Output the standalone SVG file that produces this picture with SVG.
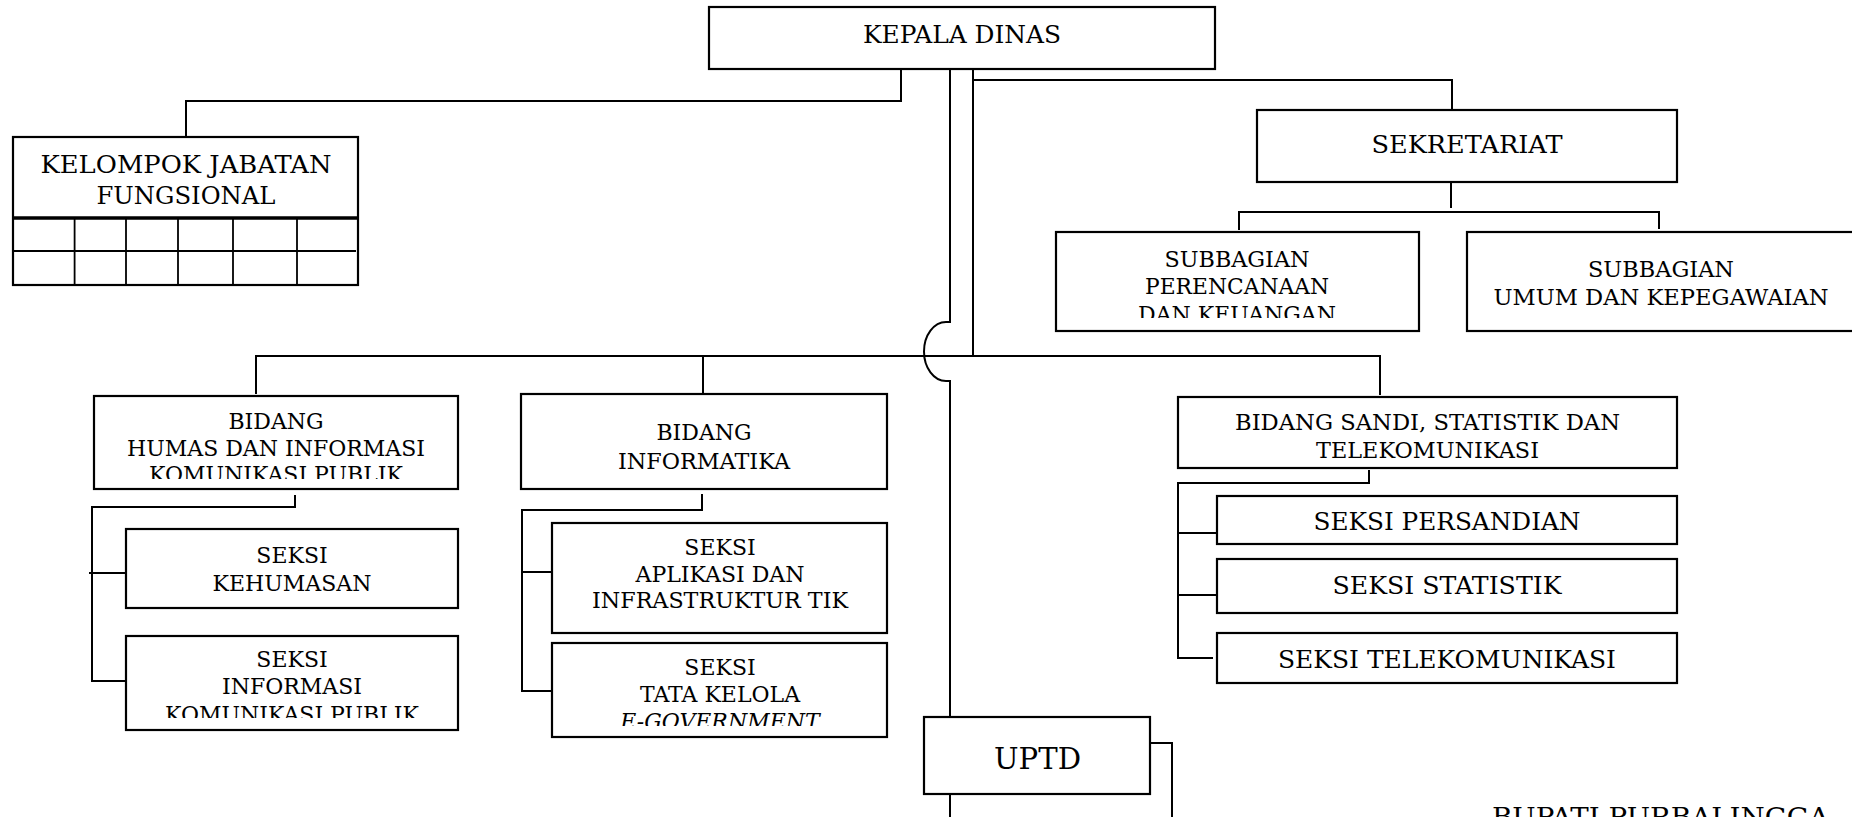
<svg xmlns="http://www.w3.org/2000/svg" width="1852" height="817" viewBox="0 0 1852 817">
<style>
.box{fill:#fff;stroke:#000;stroke-width:2.2}
.ln{fill:none;stroke:#000;stroke-width:2}
text{font-family:"DejaVu Serif","Liberation Serif",serif;fill:#000;text-anchor:middle}
.t24{font-size:24.5px}
.t22{font-size:22px}
.t23{font-size:23.5px}
</style>
<defs>
<clipPath id="cPer"><rect x="1056" y="232" width="363" height="86"/></clipPath>
<clipPath id="cHum"><rect x="94" y="396" width="364" height="83"/></clipPath>
<clipPath id="cInf"><rect x="126" y="636" width="332" height="82"/></clipPath>
<clipPath id="cTat"><rect x="552" y="643" width="335" height="83"/></clipPath>
</defs>
<rect width="1852" height="817" fill="#fff"/>
<g id="connectors" class="ln">
<path d="M901,69 V101 H186 V137"/>
<path d="M950,69 V322 H946 A22 29.5 0 0 0 946,381 H950 V717"/>
<path d="M973,69 V356"/>
<path d="M973,80 H1452 V110"/>
<path d="M1451,182 V208"/>
<path d="M1239,230 V212 H1659 V229"/>
<path d="M256,394 V356 H1380 V395"/>
<path d="M703,356 V393"/>
<path d="M295,495 V507 H92 V681 H129"/>
<path d="M89,573 H128"/>
<path d="M702,494 V510 H522 V691 H552"/>
<path d="M522,572 H552"/>
<path d="M1369,470 V483 H1178 V658 H1213"/>
<path d="M1178,533 H1217"/>
<path d="M1178,595 H1217"/>
<path d="M950,794 V817"/>
<path d="M1150,743 H1172 V817"/>
</g>
<g id="kepala-dinas">
<rect class="box" x="709" y="7" width="506" height="62"/>
<text class="t24" x="962" y="43" textLength="198" lengthAdjust="spacingAndGlyphs">KEPALA DINAS</text>
</g>
<g id="kelompok-jabatan-fungsional">
<rect class="box" x="13" y="137" width="345" height="148"/>
<line x1="13" y1="218" x2="358" y2="218" stroke="#000" stroke-width="3.5"/>
<line x1="13" y1="251" x2="356" y2="251" stroke="#000" stroke-width="1.8"/>
<g stroke="#000" stroke-width="1.8">
<line x1="74.6" y1="218" x2="74.6" y2="285"/>
<line x1="126" y1="218" x2="126" y2="285"/>
<line x1="178" y1="218" x2="178" y2="285"/>
<line x1="233" y1="218" x2="233" y2="285"/>
<line x1="297" y1="218" x2="297" y2="285"/>
</g>
<text class="t24" x="186" y="173" textLength="291" lengthAdjust="spacingAndGlyphs">KELOMPOK JABATAN</text>
<text class="t24" x="186" y="204" textLength="179" lengthAdjust="spacingAndGlyphs">FUNGSIONAL</text>
</g>
<g id="sekretariat">
<rect class="box" x="1257" y="110" width="420" height="72"/>
<text class="t24" x="1467" y="153" textLength="191" lengthAdjust="spacingAndGlyphs">SEKRETARIAT</text>
</g>
<g id="subbagian-perencanaan">
<rect class="box" x="1056" y="232" width="363" height="99"/>
<g clip-path="url(#cPer)" class="t22">
<text x="1237" y="267" textLength="145" lengthAdjust="spacingAndGlyphs">SUBBAGIAN</text>
<text x="1237" y="294" textLength="184" lengthAdjust="spacingAndGlyphs">PERENCANAAN</text>
<text x="1237" y="322">DAN KEUANGAN</text>
</g>
</g>
<g id="subbagian-umum">
<rect class="box" x="1467" y="232" width="400" height="99"/>
<text class="t22" x="1661" y="277" textLength="146" lengthAdjust="spacingAndGlyphs">SUBBAGIAN</text>
<text class="t22" x="1661" y="305" textLength="335" lengthAdjust="spacingAndGlyphs">UMUM DAN KEPEGAWAIAN</text>
</g>
<g id="bidang-humas">
<rect class="box" x="94" y="396" width="364" height="93"/>
<g clip-path="url(#cHum)" class="t22">
<text x="276" y="429">BIDANG</text>
<text x="276" y="456" textLength="298" lengthAdjust="spacingAndGlyphs">HUMAS DAN INFORMASI</text>
<text x="276" y="482">KOMUNIKASI PUBLIK</text>
</g>
</g>
<g id="seksi-kehumasan">
<rect class="box" x="126" y="529" width="332" height="79"/>
<text class="t22" x="292" y="563">SEKSI</text>
<text class="t22" x="292" y="591">KEHUMASAN</text>
</g>
<g id="seksi-informasi">
<rect class="box" x="126" y="636" width="332" height="94"/>
<g clip-path="url(#cInf)" class="t22">
<text x="292" y="667">SEKSI</text>
<text x="292" y="694">INFORMASI</text>
<text x="292" y="722">KOMUNIKASI PUBLIK</text>
</g>
</g>
<g id="bidang-informatika">
<rect class="box" x="521" y="394" width="366" height="95"/>
<text class="t22" x="704" y="440">BIDANG</text>
<text class="t22" x="704" y="469" textLength="172" lengthAdjust="spacingAndGlyphs">INFORMATIKA</text>
</g>
<g id="seksi-aplikasi">
<rect class="box" x="552" y="523" width="335" height="110"/>
<text class="t22" x="720" y="555">SEKSI</text>
<text class="t22" x="720" y="582">APLIKASI DAN</text>
<text class="t22" x="720" y="608" textLength="256" lengthAdjust="spacingAndGlyphs">INFRASTRUKTUR TIK</text>
</g>
<g id="seksi-tata-kelola">
<rect class="box" x="552" y="643" width="335" height="94"/>
<g clip-path="url(#cTat)" class="t22">
<text x="720" y="675">SEKSI</text>
<text x="720" y="702">TATA KELOLA</text>
<text x="720" y="729" font-style="italic">E-GOVERNMENT</text>
</g>
</g>
<g id="bidang-sandi">
<rect class="box" x="1178" y="397" width="499" height="71"/>
<text class="t22" x="1427.5" y="430" textLength="385" lengthAdjust="spacingAndGlyphs">BIDANG SANDI, STATISTIK DAN</text>
<text class="t22" x="1427.5" y="458" textLength="223" lengthAdjust="spacingAndGlyphs">TELEKOMUNIKASI</text>
</g>
<g id="seksi-persandian">
<rect class="box" x="1217" y="496" width="460" height="48"/>
<text class="t23" x="1447" y="530" textLength="267" lengthAdjust="spacingAndGlyphs">SEKSI PERSANDIAN</text>
</g>
<g id="seksi-statistik">
<rect class="box" x="1217" y="559" width="460" height="54"/>
<text class="t23" x="1447" y="594" textLength="229" lengthAdjust="spacingAndGlyphs">SEKSI STATISTIK</text>
</g>
<g id="seksi-telekomunikasi">
<rect class="box" x="1217" y="633" width="460" height="50"/>
<text class="t23" x="1447" y="668" textLength="338" lengthAdjust="spacingAndGlyphs">SEKSI TELEKOMUNIKASI</text>
</g>
<g id="uptd">
<rect class="box" x="924" y="717" width="226" height="77"/>
<text x="1037.5" y="769" font-size="30" textLength="87" lengthAdjust="spacingAndGlyphs">UPTD</text>
</g>
<text x="1492" y="826" font-size="26" style="text-anchor:start" textLength="337" lengthAdjust="spacingAndGlyphs">BUPATI PURBALINGGA</text>
</svg>
